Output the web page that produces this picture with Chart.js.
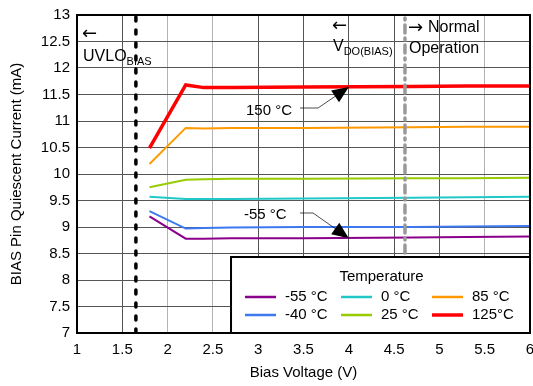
<!DOCTYPE html>
<html>
<head>
<meta charset="utf-8">
<script src="https://cdn.jsdelivr.net/npm/chart.js@4.4.1/dist/chart.umd.min.js"></script>
<style>
  html, body { margin: 0; padding: 0; background: #fff; }
  #wrap { width: 533px; height: 386px; position: relative; }
</style>
</head>
<body>
<div id="wrap"><canvas id="chart"></canvas></div>
<script>
// Bias voltage sample points (V)
const biasVoltage = [1.8, 2.2, 2.4, 2.7, 3.5, 4.7, 5.3, 6.0];

// Quiescent current per temperature (mA)
const iqMinus55 = [9.2, 8.78, 8.78, 8.79, 8.79, 8.8, 8.81, 8.82];
const iqMinus40 = [9.3, 8.97, 8.98, 8.99, 9.0, 9.0, 9.01, 9.02];
const iq0 = [9.57, 9.53, 9.53, 9.53, 9.54, 9.55, 9.56, 9.57];
const iq25 = [9.75, 9.89, 9.9, 9.91, 9.91, 9.92, 9.92, 9.93];
const iq85 = [10.19, 10.87, 10.86, 10.87, 10.87, 10.88, 10.89, 10.89];
const iq125 = [10.49, 11.68, 11.63, 11.63, 11.64, 11.65, 11.66, 11.66];

const tempLabels = ['-55 °C', '-40 °C', '0 °C', '25 °C', '85 °C', '125°C'];
const tempColors = ['#8B008B', '#3C78F0', '#22C8C8', '#99CC00', '#FF9900', '#FF0000'];

// Threshold markers (V)
const uvloBias = 1.65;
const vdoBias = 4.62;

const xTicks = [1, 1.5, 2, 2.5, 3, 3.5, 4, 4.5, 5, 5.5, 6];
const lightGridX = [2, 2.5, 5.5];

function toPoints(ys) {
    return biasVoltage.map((x, i) => ({ x: x, y: ys[i] }));
}

const seriesList = [iqMinus55, iqMinus40, iq0, iq25, iq85, iq125];
const widths = [2, 2, 2, 2, 2, 3.5];

const datasets = seriesList.map((ys, i) => ({
    label: tempLabels[i],
    data: toPoints(ys),
    borderColor: tempColors[i],
    borderWidth: widths[i],
    pointRadius: 0,
    tension: 0,
    fill: false,
    order: 1
}));

// vertical threshold lines
datasets.push({
    label: 'uvlo',
    data: [{ x: uvloBias, y: 7 }, { x: uvloBias, y: 13 }],
    borderColor: '#000',
    borderWidth: 3.5,
    borderDash: [4, 9],
    borderCapStyle: 'round',
    pointRadius: 0,
    order: 0
});
datasets.push({
    label: 'vdo',
    data: [{ x: vdoBias, y: 7 }, { x: vdoBias, y: 13 }],
    borderColor: '#999',
    borderWidth: 3.5,
    borderDash: [8, 5, 2, 5],
    borderCapStyle: 'round',
    pointRadius: 0,
    order: 0
});

const FONT = '"Liberation Sans", Arial, sans-serif';
const ARROW_FONT = '18px "DejaVu Sans", sans-serif';

function arrowHead(ctx, fx, fy, tx, ty, size) {
    const a = Math.atan2(ty - fy, tx - fx);
    ctx.beginPath();
    ctx.moveTo(tx, ty);
    ctx.lineTo(tx - size * Math.cos(a - 0.4), ty - size * Math.sin(a - 0.4));
    ctx.lineTo(tx - size * Math.cos(a + 0.4), ty - size * Math.sin(a + 0.4));
    ctx.closePath();
    ctx.fill();
}

const annotations = {
    id: 'annotations',
    afterDatasetsDraw(chart) {
        const ctx = chart.ctx;
        const xs = chart.scales.x, ys = chart.scales.y;
        const area = chart.chartArea;
        ctx.save();
        ctx.fillStyle = '#000';
        ctx.strokeStyle = '#000';
        ctx.textBaseline = 'middle';
        ctx.textAlign = 'left';

        // UVLO label
        ctx.font = ARROW_FONT;
        ctx.fillText('\u2190', 82, 34);
        ctx.font = '16px ' + FONT;
        ctx.fillText('UVLO', 83, 57);
        let w = ctx.measureText('UVLO').width;
        ctx.font = '11px ' + FONT;
        ctx.fillText('BIAS', 83 + w, 62);

        // VDO label
        ctx.font = ARROW_FONT;
        ctx.fillText('\u2190', 332, 26);
        ctx.font = '16px ' + FONT;
        ctx.fillText('V', 333, 47);
        w = ctx.measureText('V').width;
        ctx.font = '11px ' + FONT;
        ctx.fillText('DO(BIAS)', 333 + w, 52);

        ctx.font = ARROW_FONT;
        ctx.fillText('\u2192', 408, 28);
        ctx.font = '16px ' + FONT;
        ctx.fillText('Normal', 428, 28);
        ctx.fillText('Operation', 409, 49);

        // 150 °C callout
        ctx.font = '15px ' + FONT;
        ctx.fillText('150 °C', 246, 111);
        const t1x = xs.getPixelForValue(4.0), t1y = ys.getPixelForValue(11.64);
        ctx.lineWidth = 0.7;
        ctx.beginPath();
        ctx.moveTo(300, 108);
        ctx.lineTo(318, 108);
        ctx.lineTo(t1x, t1y);
        ctx.stroke();
        arrowHead(ctx, 318, 108, t1x, t1y, 18);

        // -55 °C callout
        ctx.fillText('-55 °C', 244, 215);
        const t2x = xs.getPixelForValue(4.0), t2y = ys.getPixelForValue(8.79);
        ctx.beginPath();
        ctx.moveTo(300, 213);
        ctx.lineTo(313, 213);
        ctx.lineTo(t2x, t2y);
        ctx.stroke();
        arrowHead(ctx, 313, 213, t2x, t2y, 18);

        // Legend box
        const lx = xs.getPixelForValue(2.7), ly = 257;
        const lr = area.right, lb = area.bottom;
        ctx.fillStyle = '#fff';
        ctx.fillRect(lx, ly, lr - lx, lb - ly);
        ctx.lineWidth = 2;
        ctx.strokeRect(lx, ly, lr - lx, lb - ly);
        ctx.fillStyle = '#000';
        ctx.textAlign = 'center';
        ctx.font = '15px ' + FONT;
        ctx.fillText('Temperature', (lx + lr) / 2 + 1, 277);
        const colX = [245, 341, 432];
        const rowY = [297, 315];
        ctx.textAlign = 'left';
        for (let i = 0; i < tempLabels.length; i++) {
            const col = Math.floor(i / 2), row = i % 2;
            const x0 = colX[col], y0 = rowY[row];
            ctx.strokeStyle = tempColors[i];
            ctx.lineWidth = i === 5 ? 3.5 : 2.5;
            ctx.beginPath();
            ctx.moveTo(x0, y0);
            ctx.lineTo(x0 + 31, y0);
            ctx.stroke();
            ctx.fillStyle = '#000';
            ctx.fillText(tempLabels[i], x0 + 40, y0);
        }

        // plot frame
        ctx.strokeStyle = '#000';
        ctx.lineWidth = 2;
        ctx.strokeRect(area.left, area.top, area.right - area.left, area.bottom - area.top);
        ctx.restore();
    }
};

new Chart(document.getElementById('chart'), {
    type: 'line',
    data: { datasets: datasets },
    options: {
        responsive: true,
        maintainAspectRatio: false,
        animation: false,
        layout: { padding: { top: 15, right: 3, left: 4, bottom: 0 } },
        plugins: {
            legend: { display: false },
            tooltip: { enabled: false }
        },
        scales: {
            x: {
                type: 'linear',
                min: 1,
                max: 6,
                afterBuildTicks: (scale) => { scale.ticks = xTicks.map(v => ({ value: v })); },
                afterFit: (scale) => {
                    scale.height = 53;
                    scale.paddingLeft = 0;
                    scale.paddingRight = 0;
                },
                grid: {
                    color: (c) => lightGridX.includes(c.tick.value) ? '#b4b4b4' : '#555',
                    lineWidth: 1,
                    drawTicks: false
                },
                border: { display: false },
                ticks: {
                    color: '#000',
                    font: { family: FONT, size: 15 },
                    padding: 8,
                    maxRotation: 0,
                    callback: (v) => String(v)
                },
                title: {
                    display: true,
                    text: 'Bias Voltage (V)',
                    color: '#000',
                    font: { family: FONT, size: 15 },
                    padding: { top: 1 }
                }
            },
            y: {
                type: 'linear',
                min: 7,
                max: 13,
                afterFit: (scale) => {
                    scale.width = 73;
                    scale.paddingTop = 0;
                    scale.paddingBottom = 0;
                },
                grid: { color: '#555', lineWidth: 1, drawTicks: false },
                border: { display: false },
                ticks: {
                    stepSize: 0.5,
                    color: '#000',
                    font: { family: FONT, size: 15 },
                    padding: 7,
                    callback: (v) => String(v)
                },
                title: {
                    display: true,
                    text: 'BIAS Pin Quiescent Current (mA)',
                    color: '#000',
                    font: { family: FONT, size: 15 },
                    padding: { bottom: 1 }
                }
            }
        }
    },
    plugins: [annotations]
});
</script>
</body>
</html>
